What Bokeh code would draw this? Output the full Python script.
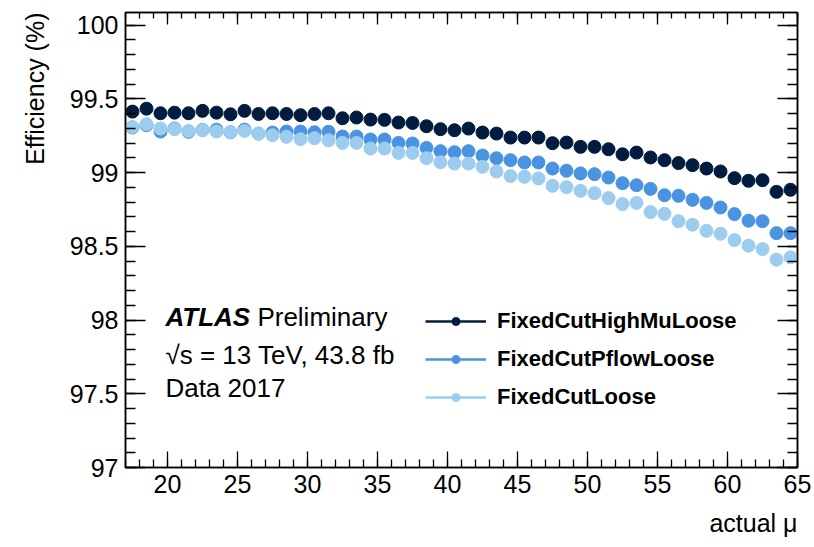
from bokeh.plotting import figure
from bokeh.models import (Range1d, LinearAxis, SingleIntervalTicker, Label,
                          Legend, LegendItem, ColumnDataSource, Title,
                          CustomJSTickFormatter)
from bokeh.embed import file_html
from bokeh.resources import INLINE

# pile-up bins (bin centres of actual mu)
mu = [m + 0.5 for m in range(17, 65)]

eff_highmu = [99.413, 99.433, 99.402, 99.406, 99.402, 99.418, 99.406, 99.395,
              99.418, 99.397, 99.402, 99.397, 99.389, 99.397, 99.402, 99.368,
              99.373, 99.359, 99.357, 99.339, 99.336, 99.314, 99.294, 99.287,
              99.298, 99.271, 99.264, 99.237, 99.237, 99.237, 99.199, 99.203,
              99.174, 99.174, 99.158, 99.124, 99.135, 99.102, 99.084, 99.064,
              99.050, 99.027, 99.007, 98.962, 98.944, 98.948, 98.869, 98.883]

eff_pflow = [99.305, 99.321, 99.278, 99.298, 99.276, 99.289, 99.290, 99.273,
             99.291, 99.264, 99.271, 99.278, 99.278, 99.273, 99.276, 99.244,
             99.244, 99.224, 99.224, 99.201, 99.197, 99.167, 99.145, 99.138,
             99.145, 99.115, 99.097, 99.084, 99.068, 99.068, 99.027, 99.012,
             98.994, 98.989, 98.966, 98.928, 98.914, 98.889, 98.846, 98.842,
             98.815, 98.794, 98.763, 98.718, 98.673, 98.670, 98.589, 98.589]

eff_loose = [99.309, 99.328, 99.298, 99.294, 99.282, 99.287, 99.278, 99.273,
             99.282, 99.264, 99.253, 99.242, 99.226, 99.233, 99.219, 99.201,
             99.201, 99.163, 99.163, 99.133, 99.133, 99.097, 99.070, 99.061,
             99.061, 99.039, 99.007, 98.976, 98.971, 98.960, 98.910, 98.901,
             98.876, 98.860, 98.827, 98.786, 98.794, 98.732, 98.720, 98.670,
             98.646, 98.605, 98.585, 98.542, 98.504, 98.481, 98.409, 98.425]

series_names = ["FixedCutHighMuLoose", "FixedCutPflowLoose", "FixedCutLoose"]
series_colors = ["#021c40", "#4a93e0", "#9ccdee"]
series_values = [eff_highmu, eff_pflow, eff_loose]

FONT = "Liberation Sans"

p = figure(width=814, height=547, output_backend="svg", toolbar_location=None,
           x_range=Range1d(17, 65), y_range=Range1d(97, 100.085),
           x_axis_location=None, y_axis_location=None,
           min_border_left=125, min_border_right=17,
           min_border_top=12, min_border_bottom=80)
p.background_fill_color = "white"
p.border_fill_color = "white"
p.grid.visible = False
p.outline_line_color = "black"
p.outline_line_width = 1.5


def make_axis(kind, side, tick_major, tick_minor, show_labels):
    if kind == "x":
        ticker = SingleIntervalTicker(interval=5, num_minor_ticks=5)
    else:
        ticker = SingleIntervalTicker(interval=0.5, num_minor_ticks=5)
    ax = LinearAxis(ticker=ticker)
    ax.axis_line_color = "black"
    ax.axis_line_width = 1.5
    ax.major_tick_in = tick_major
    ax.major_tick_out = 0
    ax.minor_tick_in = tick_minor
    ax.minor_tick_out = 0
    ax.major_tick_line_color = "black"
    ax.minor_tick_line_color = "black"
    ax.major_tick_line_width = 1.3
    ax.minor_tick_line_width = 1.3
    if show_labels:
        ax.major_label_text_font = FONT
        ax.major_label_text_font_size = "25px"
        ax.major_label_text_color = "black"
        ax.major_label_standoff = 7
    else:
        # tick marks only on the mirrored frame sides
        ax.formatter = CustomJSTickFormatter(code="return ''")
        ax.major_label_standoff = 0
    p.add_layout(ax, side)
    return ax


make_axis("x", "below", 16, 8, True)
make_axis("x", "above", 12, 6, False)
make_axis("y", "left", 20, 10, True)
make_axis("y", "right", 20, 10, False)

# axis titles, aligned to the far ends of the axes
p.add_layout(Title(text="Efficiency (%)", align="right", text_font=FONT,
                   text_font_size="25px", text_font_style="normal",
                   text_color="black", standoff=36), "left")
p.add_layout(Title(text="actual \u03bc", align="right", text_font=FONT,
                   text_font_size="25px", text_font_style="normal",
                   text_color="black", standoff=22), "below")

# efficiency points
for name, color, vals in zip(series_names, series_colors, series_values):
    src = ColumnDataSource(dict(x=mu, y=vals))
    p.scatter("x", "y", source=src, size=13, marker="circle",
              fill_color=color, line_color=color)

# legend entries: line with a marker (renderers hold no drawable points)
items = []
for name, color in zip(series_names, series_colors):
    blank = ColumnDataSource(dict(x=[float("nan")], y=[float("nan")]))
    ln = p.line("x", "y", source=blank, line_color=color, line_width=2.5)
    mk = p.scatter("x", "y", source=blank, size=12, marker="circle",
                   fill_color=color, line_color=color)
    items.append(LegendItem(label=name, renderers=[ln, mk]))

legend = Legend(items=items, location=(300, 57), orientation="vertical",
                glyph_width=61, glyph_height=20, label_height=20,
                label_standoff=11, spacing=12, padding=0, margin=0,
                background_fill_alpha=0, border_line_color=None,
                label_text_font=FONT, label_text_font_size="22px",
                label_text_font_style="bold", label_text_color="black")
p.add_layout(legend)

# text annotations
p.add_layout(Label(x=19.85, y=98.023, text="ATLAS", text_font=FONT,
                   text_font_size="26px", text_font_style="bold italic",
                   text_baseline="middle", text_color="black"))
p.add_layout(Label(x=26.42, y=98.023, text="Preliminary", text_font=FONT,
                   text_font_size="26px", text_baseline="middle",
                   text_color="black"))
p.add_layout(Label(x=19.85, y=97.766, text="\u221as = 13 TeV, 43.8 fb",
                   text_font=FONT, text_font_size="26px",
                   text_baseline="middle", text_color="black"))
p.add_layout(Label(x=19.85, y=97.536, text="Data 2017", text_font=FONT,
                   text_font_size="26px", text_baseline="middle",
                   text_color="black"))

open("out.html", "w").write(file_html(p, INLINE))
